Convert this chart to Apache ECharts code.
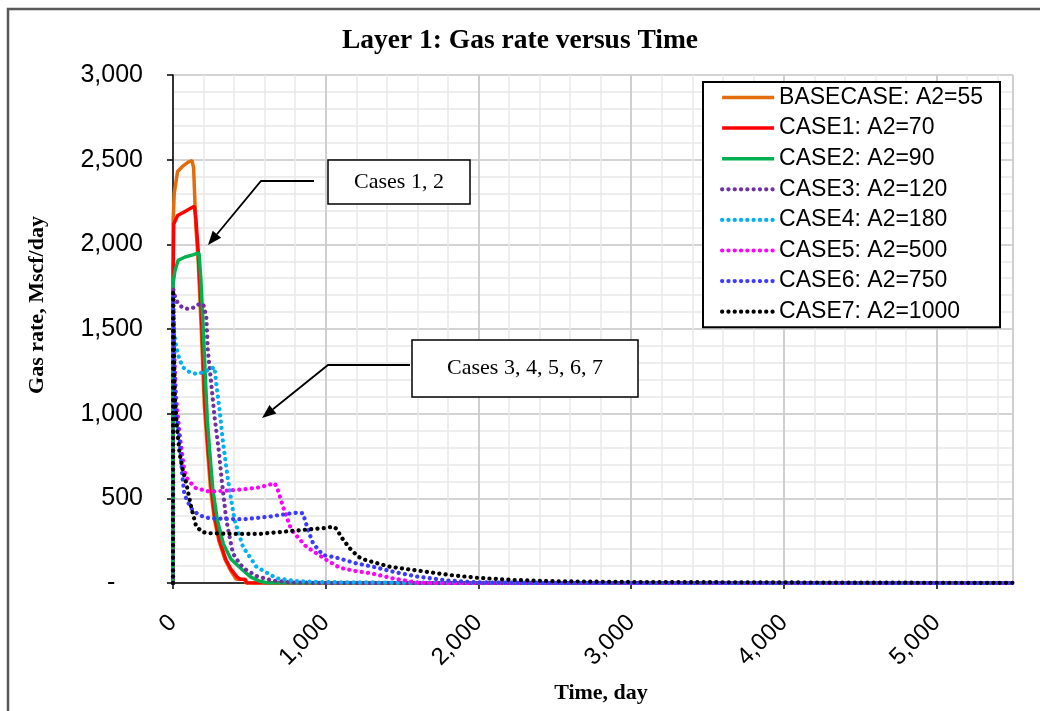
<!DOCTYPE html>
<html>
<head>
<meta charset="utf-8">
<title>Layer 1: Gas rate versus Time</title>
<script src="https://cdn.jsdelivr.net/npm/echarts@6/dist/echarts.min.js"></script>
<style>
html, body { margin: 0; padding: 0; background: #fff; }
#main { width: 1040px; height: 711px; }
</style>
</head>
<body>
<div id="main"></div>
<script>
// values: day / gas rate (Mscf/day)
var baseDays  = [0, 1, 8, 30, 62, 100, 125, 135, 150, 165, 185, 205, 226, 245, 272, 300, 340, 375, 405, 415, 470, 478, 5500];
var baseRate  = [0, 2140, 2300, 2430, 2460, 2485, 2495, 2450, 2100, 1900, 1500, 1050, 786, 560, 372, 250, 140, 77, 35, 22, 22, 0, 0];

var case1Days = [0, 1, 5, 30, 70, 110, 140, 150, 165, 185, 210, 230, 250, 275, 305, 345, 380, 420, 440, 475, 482, 5500];
var case1Rate = [0, 1850, 2120, 2170, 2190, 2210, 2225, 2150, 1960, 1600, 1050, 790, 570, 380, 250, 140, 80, 35, 22, 20, 0, 0];

var case2Days = [0, 1, 12, 33, 80, 130, 170, 182, 195, 210, 225, 240, 260, 290, 330, 380, 456, 510, 570, 620, 5500];
var case2Rate = [0, 1770, 1840, 1905, 1925, 1938, 1950, 1800, 1560, 1250, 960, 780, 560, 372, 230, 140, 77, 35, 10, 0, 0];

var case3Days = [0, 1, 10, 30, 60, 100, 140, 178, 200, 218, 228, 250, 272, 300, 320, 349, 392, 440, 480, 550, 650, 780, 1000, 5500];
var case3Rate = [0, 1740, 1700, 1655, 1628, 1618, 1628, 1652, 1640, 1573, 1376, 1181, 982, 780, 600, 372, 175, 110, 77, 40, 15, 3, 0, 0];

var case4Days = [0, 1, 10, 21, 43, 70, 110, 152, 200, 240, 272, 283, 305, 327, 360, 403, 458, 546, 677, 800, 1000, 1500, 2500, 5500];
var case4Rate = [0, 1560, 1460, 1396, 1317, 1270, 1245, 1235, 1245, 1262, 1274, 1180, 1022, 835, 608, 372, 214, 96, 28, 12, 5, 2, 0, 0];

var case5Days = [0, 1, 8, 20, 43, 75, 97, 150, 239, 350, 458, 567, 666, 687, 720, 775, 873, 1005, 1092, 1200, 1310, 1450, 1605, 1700, 5500];
var case5Rate = [0, 1700, 1350, 1100, 880, 660, 608, 560, 540, 545, 553, 565, 589, 549, 451, 313, 214, 136, 90, 70, 55, 25, 2, 0, 0];

var case6Days = [0, 1, 8, 20, 43, 60, 75, 119, 170, 239, 458, 633, 760, 808, 851, 884, 917, 982, 1070, 1201, 1310, 1450, 1605, 1800, 1988, 2400, 5500];
var case6Rate = [0, 1700, 1300, 1000, 860, 640, 520, 441, 400, 382, 376, 392, 410, 415, 412, 313, 234, 165, 150, 116, 96, 65, 37, 15, 4, 0, 0];

var case7Days = [0, 1, 6, 12, 25, 43, 64, 87, 119, 152, 195, 239, 400, 567, 750, 895, 1000, 1048, 1070, 1103, 1157, 1212, 1245, 1420, 1605, 1813, 1988, 2228, 2513, 3000, 3800, 4500, 5500];
var case7Rate = [0, 1730, 1400, 1100, 930, 766, 667, 589, 449, 333, 300, 294, 290, 290, 305, 317, 325, 333, 320, 270, 205, 156, 140, 96, 73, 47, 31, 18, 10, 6, 4, 2, 1];

var seriesNames = ['BASECASE: A2=55', 'CASE1: A2=70', 'CASE2: A2=90', 'CASE3: A2=120',
                   'CASE4: A2=180', 'CASE5: A2=500', 'CASE6: A2=750', 'CASE7: A2=1000'];
var seriesColors = ['#e46c0a', '#ff0000', '#00b050', '#7030a0', '#00b0f0', '#ff00ff', '#3b3bff', '#000000'];
var seriesDotted = [false, false, false, true, true, true, true, true];
var allDays = [baseDays, case1Days, case2Days, case3Days, case4Days, case5Days, case6Days, case7Days];
var allRates = [baseRate, case1Rate, case2Rate, case3Rate, case4Rate, case5Rate, case6Rate, case7Rate];

var xTicks = { min: 0, max: 5500, step: 1000, minorStep: 200 };
var yTicks = { min: 0, max: 3000, step: 500 };

function zip(xs, ys) {
    var out = [];
    for (var i = 0; i < xs.length; i++) out.push([xs[i], ys[i]]);
    return out;
}

function arrow(points, tip) {
    var last = points[points.length - 1];
    var dx = tip[0] - last[0], dy = tip[1] - last[1];
    var len = Math.sqrt(dx * dx + dy * dy);
    var ux = dx / len, uy = dy / len;
    var L = 14, W = 5.5;
    var bx = tip[0] - ux * L, by = tip[1] - uy * L;
    return [
        { type: 'polyline', z: 100, shape: { points: points.concat([[bx, by]]) },
          style: { stroke: '#000', lineWidth: 1.8, fill: null } },
        { type: 'polygon', z: 100, shape: { points: [tip, [bx - uy * W, by + ux * W], [bx + uy * W, by - ux * W]] },
          style: { fill: '#000' } }
    ];
}

var serif = '"Liberation Serif", "Times New Roman", serif';
var sans = '"Liberation Sans", Arial, sans-serif';

var series = seriesNames.map(function (name, i) {
    var ls = seriesDotted[i]
        ? { color: seriesColors[i], width: 4.2, type: [0.1, 6.2], cap: 'round' }
        : { color: seriesColors[i], width: 3.5 };
    return {
        name: name,
        type: 'line',
        xAxisIndex: 1,
        symbol: 'none',
        showSymbol: false,
        color: seriesColors[i],
        lineStyle: ls,
        data: zip(allDays[i], allRates[i])
    };
});

var myChart = echarts.init(document.getElementById('main'));
var option = {
    animation: false,
    backgroundColor: '#fff',
    title: {
        text: 'Layer 1: Gas rate versus Time',
        left: 'center',
        top: 27,
        padding: 0,
        textStyle: { fontFamily: serif, fontWeight: 'bold', fontSize: 27.5, color: '#000' }
    },
    legend: {
        left: 703,
        top: 82,
        orient: 'vertical',
        itemWidth: 52,
        itemHeight: 14,
        itemGap: 7.6,
        padding: [4, 17, 4, 17],
        borderColor: '#000',
        borderWidth: 2,
        backgroundColor: '#fff',
        itemStyle: { opacity: 0, borderWidth: 0 },
        lineStyle: { width: 'inherit' },
        textStyle: { fontFamily: sans, fontSize: 23, lineHeight: 23, color: '#000' },
        data: seriesNames
    },
    grid: { left: 173, right: 27, top: 75, bottom: 128, outerBoundsMode: 'none' },
    xAxis: [
        {
            // minor grid only
            type: 'value', min: xTicks.min, max: xTicks.max, interval: xTicks.minorStep,
            position: 'bottom',
            axisLine: { show: false }, axisTick: { show: false }, axisLabel: { show: false },
            splitLine: { show: true, lineStyle: { color: '#e8e8e8', width: 1.5 } }
        },
        {
            type: 'value', min: xTicks.min, max: xTicks.max, interval: xTicks.step,
            position: 'bottom',
            name: 'Time, day',
            nameLocation: 'middle',
            nameGap: 99,
            nameTextStyle: { fontFamily: serif, fontWeight: 'bold', fontSize: 22, color: '#000', padding: [0, 0, 0, 16] },
            axisLine: { lineStyle: { color: '#000', width: 1.5 } },
            axisTick: { length: 6, lineStyle: { color: '#000', width: 1.5 } },
            axisLabel: {
                rotate: 45, margin: 36, fontSize: 24, fontFamily: sans, color: '#000',
                showMaxLabel: false,
                formatter: function (v) { return v.toLocaleString('en-US'); }
            },
            splitLine: { show: true, lineStyle: { color: '#c4c4c4', width: 1.5 } }
        }
    ],
    yAxis: {
        type: 'value', min: yTicks.min, max: yTicks.max, interval: yTicks.step,
        axisLine: { show: true, lineStyle: { color: '#000', width: 1.5 } },
        axisTick: { show: true, length: 6, lineStyle: { color: '#000', width: 1.5 } },
        axisLabel: {
            margin: 30, fontSize: 25, fontFamily: sans, color: '#000',
            formatter: function (v) { return v === 0 ? '-    ' : v.toLocaleString('en-US'); }
        },
        splitLine: { show: true, lineStyle: { color: '#c4c4c4', width: 1.5 } },
        minorTick: { show: false, splitNumber: 5 },
        minorSplitLine: { show: true, lineStyle: { color: '#e8e8e8', width: 1.5 } }
    },
    graphic: [
        { type: 'rect', z: -10, silent: true, shape: { x: 8, y: 9, width: 1100, height: 800 },
          style: { fill: null, stroke: '#595959', lineWidth: 2.5 } },
        { type: 'text', x: 37, y: 305, rotation: Math.PI / 2, z: 100,
          style: { text: 'Gas rate, Mscf/day', font: 'bold 22px ' + serif, fill: '#000',
                   align: 'center', verticalAlign: 'middle', textAlign: 'center', textVerticalAlign: 'middle' } },
        { type: 'rect', z: 100, shape: { x: 328, y: 160, width: 142, height: 44 },
          style: { fill: '#fff', stroke: '#000', lineWidth: 1.5 } },
        { type: 'text', x: 399, y: 182, z: 101,
          style: { text: 'Cases 1, 2', font: '22px ' + serif, fill: '#000',
                   align: 'center', verticalAlign: 'middle', textAlign: 'center', textVerticalAlign: 'middle' } },
        { type: 'rect', z: 100, shape: { x: 412, y: 340, width: 226, height: 57 },
          style: { fill: '#fff', stroke: '#000', lineWidth: 1.5 } },
        { type: 'text', x: 525, y: 368, z: 101,
          style: { text: 'Cases 3, 4, 5, 6, 7', font: '22px ' + serif, fill: '#000',
                   align: 'center', verticalAlign: 'middle', textAlign: 'center', textVerticalAlign: 'middle' } }
    ].concat(arrow([[314, 181], [261, 181]], [208, 245]))
     .concat(arrow([[410, 365], [328, 365]], [262, 418])),
    series: series
};
myChart.setOption(option);
</script>
</body>
</html>
